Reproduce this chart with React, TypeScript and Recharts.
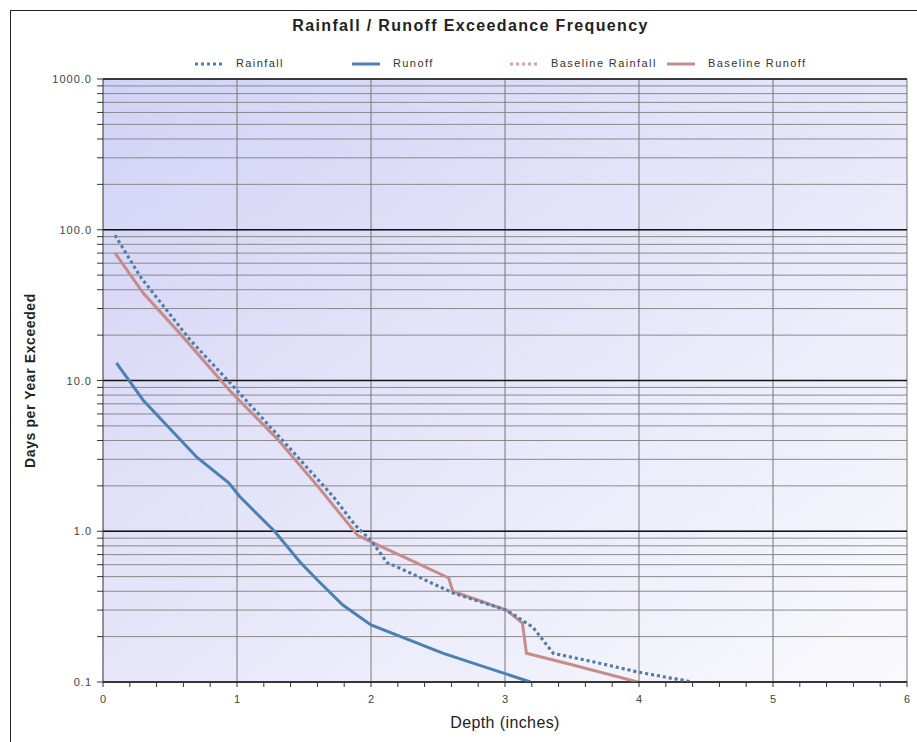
import {
  LineChart, Line, XAxis, YAxis, CartesianGrid, ReferenceLine, Legend
} from "recharts";

// (depth in inches, days per year)
const rainfallDepth = [0.09, 0.28, 0.65, 1.0, 1.4, 1.72, 1.88, 2.0, 2.12, 2.29, 2.61, 3.01, 3.12, 3.21, 3.36, 3.66, 4.0, 4.4];
const rainfallDays = [92, 48.6, 18.6, 8.6, 3.5, 1.69, 1.1, 0.87, 0.62, 0.53, 0.39, 0.3, 0.26, 0.23, 0.155, 0.136, 0.116, 0.1];

const runoffDepth = [0.1, 0.3, 0.7, 0.94, 1.02, 1.28, 1.47, 1.6, 1.79, 2.0, 2.54, 3.19];
const runoffDays = [13.1, 7.4, 3.1, 2.09, 1.7, 1.0, 0.625, 0.475, 0.324, 0.239, 0.155, 0.1];

const baseRainfallDepth = rainfallDepth;
const baseRainfallDays = rainfallDays;

const baseRunoffDepth = [0.09, 0.3, 0.57, 0.95, 1.3, 1.6, 1.9, 2.0, 2.3, 2.58, 2.61, 3.01, 3.13, 3.16, 3.5, 3.99];
const baseRunoffDays = [70, 38, 20.7, 8.5, 4.1, 2.0, 0.94, 0.85, 0.64, 0.49, 0.4, 0.3, 0.246, 0.155, 0.13, 0.1];

const xTicks = [0, 0.2, 0.4, 0.6, 0.8, 1, 1.2, 1.4, 1.6, 1.8, 2, 2.2, 2.4, 2.6, 2.8, 3, 3.2, 3.4, 3.6, 3.8, 4, 4.2, 4.4, 4.6, 4.8, 5, 5.2, 5.4, 5.6, 5.8, 6];
const xMajor = [1, 2, 3, 4, 5, 6];
const yTicks = [
  0.1, 0.2, 0.3, 0.4, 0.5, 0.6, 0.7, 0.8, 0.9,
  1, 2, 3, 4, 5, 6, 7, 8, 9,
  10, 20, 30, 40, 50, 60, 70, 80, 90,
  100, 200, 300, 400, 500, 600, 700, 800, 900,
  1000,
];
const yMajor = [0.1, 1, 10, 100, 1000];
const yMajorLabels = ["0.1", "1.0", "10.0", "100.0", "1000.0"];

const toPoints = (xs: number[], ys: number[]) => xs.map((x, i) => ({ x, y: ys[i] }));

const series = [
  { name: "Rainfall", color: "#4a7fb0", dash: "3 3", left: 195 },
  { name: "Runoff", color: "#4a80b2", dash: "", left: 352 },
  { name: "Baseline Rainfall", color: "#d9a3a3", dash: "3 3", left: 510 },
  { name: "Baseline Runoff", color: "#c48c8a", dash: "", left: 667 },
];

const font = "'Liberation Sans', Arial, sans-serif";

const YTick = (props: any) => {
  const { x, y, payload } = props;
  const i = yMajor.indexOf(payload.value);
  if (i < 0) return null;
  return (
    <text x={x} y={y} dy={4} textAnchor="end" fontSize={11} letterSpacing={1} fill="#444" fontFamily={font}>
      {yMajorLabels[i]}
    </text>
  );
};

const XTick = (props: any) => {
  const { x, y, payload } = props;
  if (!Number.isInteger(payload.value)) return null;
  return (
    <text x={x} y={y} dy={10} textAnchor="middle" fontSize={11} fill="#444" fontFamily={font}>
      {payload.value}
    </text>
  );
};

const TopLegend = () => (
  <div style={{ position: "relative", width: 917, height: 75, fontFamily: font }}>
    <div style={{ position: "absolute", top: 17, left: 12, width: 917, textAlign: "center", fontSize: 16, fontWeight: "bold", color: "#222", letterSpacing: 1.35 }}>
      Rainfall / Runoff Exceedance Frequency
    </div>
    {series.map((s) => (
      <div key={s.name} style={{ position: "absolute", left: s.left, top: 57, height: 14, fontSize: 11, color: "#333" }}>
        <svg width={30} height={14} style={{ position: "absolute", left: 0, top: 0 }}>
          <line x1={0} y1={7} x2={28} y2={7} stroke={s.color} strokeWidth={3} strokeDasharray={s.dash || undefined} />
        </svg>
        <span style={{ position: "absolute", left: 41, top: 0, whiteSpace: "nowrap", letterSpacing: 1.4 }}>{s.name}</span>
      </div>
    ))}
  </div>
);

function App() {
  return (
    <div style={{ position: "absolute", left: 0, top: 0, width: 917, height: 742, background: "#fff", overflow: "hidden" }}>
      <div style={{ position: "absolute", left: 10, top: 10, width: 907, height: 732, borderLeft: "1px solid #222", borderTop: "1px solid #222" }} />
      <LineChart width={917} height={742} margin={{ top: 79, right: 10, bottom: 0, left: 0 }} style={{ position: "absolute", left: 0, top: 0 }}>
        <defs>
          <linearGradient id="plotBg" x1="0" y1="0" x2="1" y2="1">
            <stop offset="0%" stopColor="#d2d2f6" />
            <stop offset="100%" stopColor="#fafafd" />
          </linearGradient>
        </defs>
        <CartesianGrid vertical={false} stroke="#8a8a8a" fill="url(#plotBg)" fillOpacity={1} />
        <XAxis
          type="number"
          dataKey="x"
          domain={[0, 6]}
          ticks={xTicks}
          interval={0}
          allowDataOverflow
          height={60}
          stroke="#333"
          tickSize={5}
          tickMargin={6}
          tick={<XTick />}
          label={{ value: "Depth (inches)", position: "insideBottom", offset: 14, fontSize: 16, fill: "#222", fontFamily: font, letterSpacing: 0.4 }}
        />
        <YAxis
          type="number"
          dataKey="y"
          scale="log"
          domain={[0.1, 1000]}
          ticks={yTicks}
          interval={0}
          allowDataOverflow
          width={103}
          stroke="#333"
          tickSize={6}
          tickMargin={5}
          tick={<YTick />}
          label={{ value: "Days per Year Exceeded", angle: -90, position: "insideLeft", offset: 30, fontSize: 14, fontWeight: "bold", fill: "#222", fontFamily: font, letterSpacing: 0.6, style: { textAnchor: "middle" } }}
        />
        {xMajor.map((v) => (
          <ReferenceLine key={"x" + v} x={v} stroke="#777" strokeWidth={1} />
        ))}
        {yMajor.map((v) => (
          <ReferenceLine key={"y" + v} y={v} stroke="#111" strokeWidth={1.3} />
        ))}
        <Legend verticalAlign="middle" align="center" layout="horizontal" wrapperStyle={{ top: 0, left: 0, width: 917, height: 75 }} content={<TopLegend />} />
        <Line data={toPoints(baseRainfallDepth, baseRainfallDays)} dataKey="y" name="Baseline Rainfall" type="linear" stroke="#d9a3a3" strokeWidth={3} strokeDasharray="3 3" dot={false} isAnimationActive={false} />
        <Line data={toPoints(baseRunoffDepth, baseRunoffDays)} dataKey="y" name="Baseline Runoff" type="linear" stroke="#c48c8a" strokeWidth={3} dot={false} isAnimationActive={false} />
        <Line data={toPoints(runoffDepth, runoffDays)} dataKey="y" name="Runoff" type="linear" stroke="#4a80b2" strokeWidth={3} dot={false} isAnimationActive={false} />
        <Line data={toPoints(rainfallDepth, rainfallDays)} dataKey="y" name="Rainfall" type="linear" stroke="#4a7fb0" strokeWidth={3} strokeDasharray="3 3" dot={false} isAnimationActive={false} />
      </LineChart>
    </div>
  );
}

export default App;
